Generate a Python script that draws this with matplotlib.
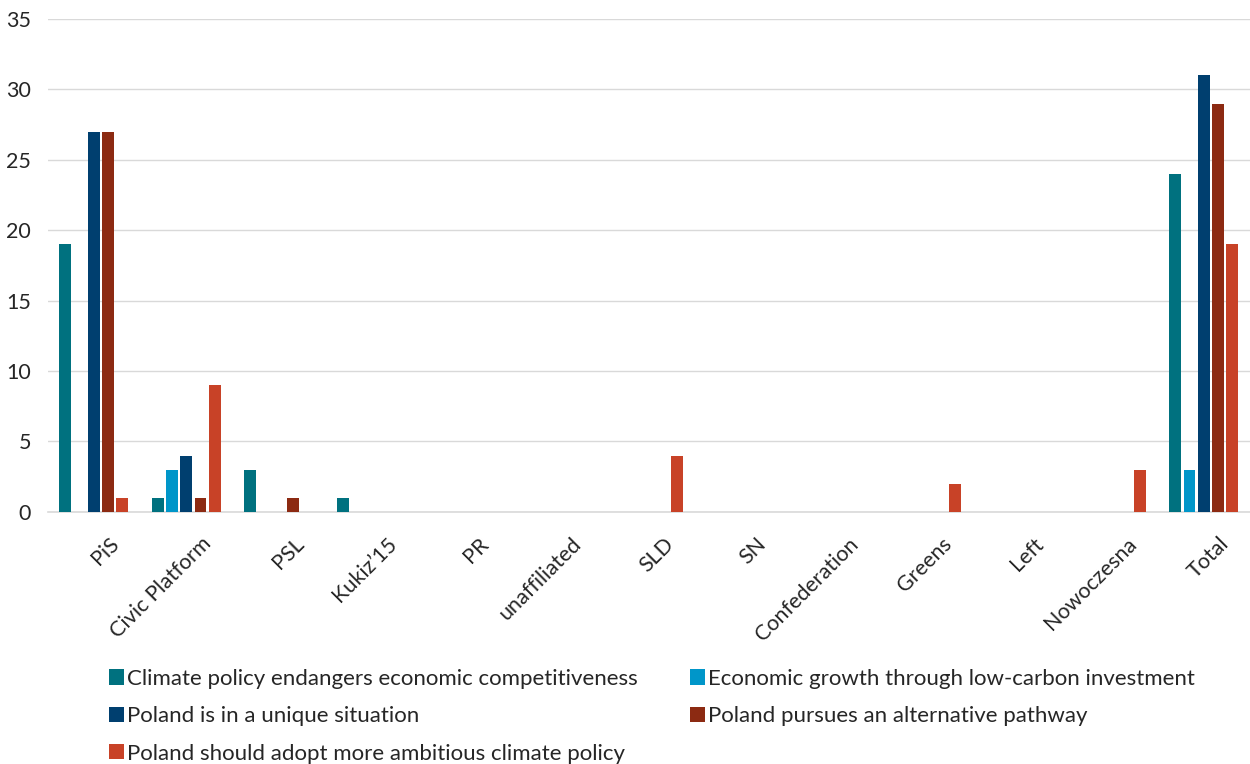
import matplotlib
matplotlib.use("Agg")
import matplotlib.pyplot as plt
import numpy as np
from matplotlib.transforms import ScaledTranslation
from matplotlib.patches import Patch

plt.rcParams['font.family'] = ['Lato', 'DejaVu Sans']

categories = ["PiS", "Civic Platform", "PSL", "Kukiz\u201915", "PR", "unaffiliated", "SLD",
              "SN", "Confederation", "Greens", "Left", "Nowoczesna", "Total"]
series_names = [
    "Climate policy endangers economic competitiveness",
    "Economic growth through low-carbon investment",
    "Poland is in a unique situation",
    "Poland pursues an alternative pathway",
    "Poland should adopt more ambitious climate policy",
]
endangers = [19, 1, 3, 1, 0, 0, 0, 0, 0, 0, 0, 0, 24]
growth =    [0, 3, 0, 0, 0, 0, 0, 0, 0, 0, 0, 0, 3]
unique =    [27, 4, 0, 0, 0, 0, 0, 0, 0, 0, 0, 0, 31]
alternative = [27, 1, 1, 0, 0, 0, 0, 0, 0, 0, 0, 0, 29]
ambitious = [1, 9, 0, 0, 0, 0, 4, 0, 0, 2, 0, 3, 19]
yticks = [0, 5, 10, 15, 20, 25, 30, 35]

colors = ["#00717F", "#0096C9", "#003F6F", "#8C2A12", "#C84227"]
data = [endangers, growth, unique, alternative, ambitious]

fig = plt.figure(figsize=(12.5, 7.64), dpi=100)
ax = fig.add_axes([0.038, 0.330, 0.962, 0.645])

x = np.arange(len(categories))
step = 0.154
width = 0.128
for i, (vals, c) in enumerate(zip(data, colors)):
    ax.bar(x + (i - 2) * step, vals, width=width, color=c, zorder=3)

ax.set_xlim(-0.5, 12.5)
ax.set_ylim(0, 35)
ax.set_yticks(yticks)
ax.grid(axis='y', color='#D9D9D9', linewidth=1.0, zorder=0)
for s in ['top', 'right', 'left']:
    ax.spines[s].set_visible(False)
ax.spines['bottom'].set_color('#D9D9D9')
ax.spines['bottom'].set_linewidth(1.2)
ax.tick_params(axis='y', length=0, pad=12, labelsize=15.5, labelcolor='#262626')
ax.tick_params(axis='x', length=0, pad=0, labelsize=15.5, labelcolor='#262626')
ax.set_xticks(x)
ax.set_xticklabels(categories, rotation=45, ha='right', va='center', rotation_mode='anchor')
off = ScaledTranslation(0.22, -0.29, fig.dpi_scale_trans)
for lab in ax.get_xticklabels():
    lab.set_transform(lab.get_transform() + off)

handles = [Patch(facecolor=c, edgecolor='none') for c in colors]
order = [0, 2, 4, 1, 3]
fig.legend([handles[i] for i in order], [series_names[i] for i in order],
           ncol=2, loc='upper left', bbox_to_anchor=(0.087, 0.1245),
           frameon=False, fontsize=16, handlelength=0.68, handleheight=0.68,
           handletextpad=0.13, columnspacing=2.35, labelspacing=0.78,
           labelcolor='#262626', borderaxespad=0, borderpad=0)

fig.savefig("out.png", dpi=100)
